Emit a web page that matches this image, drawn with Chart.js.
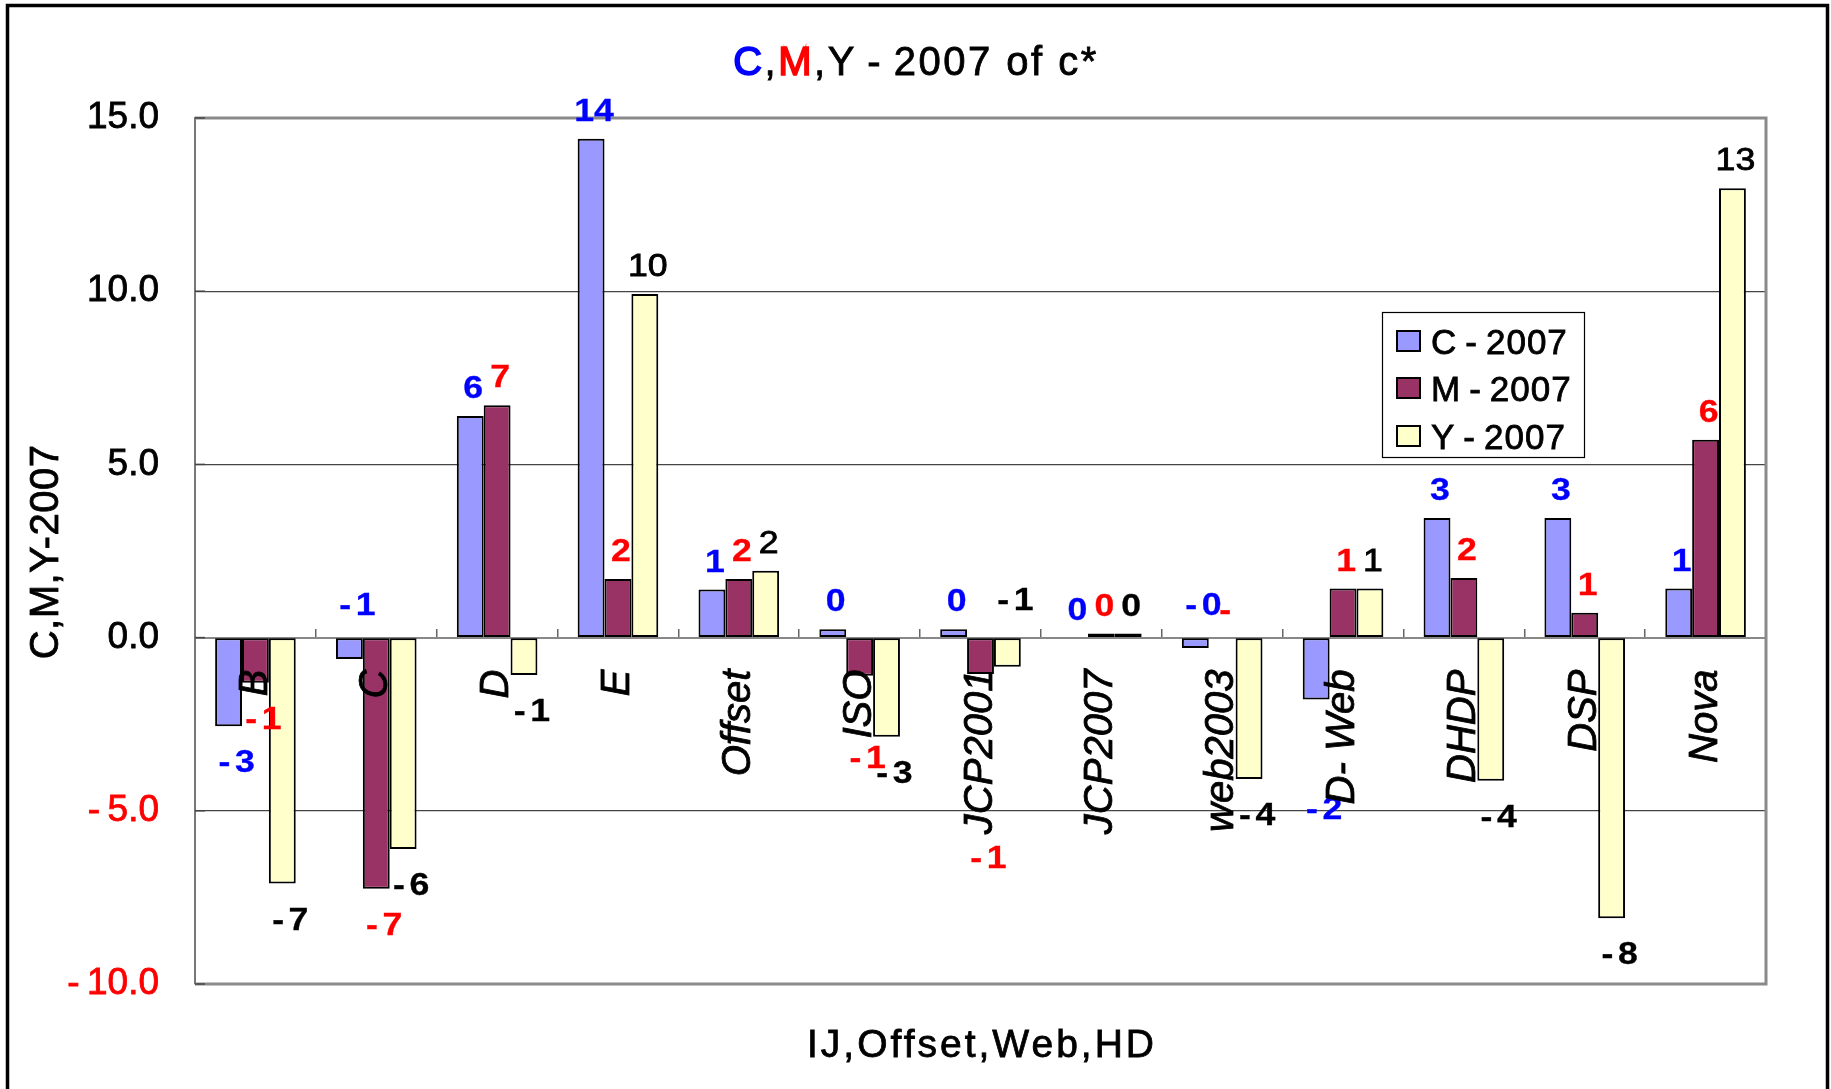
<!DOCTYPE html>
<html>
<head>
<meta charset="utf-8">
<script src="https://cdn.jsdelivr.net/npm/chart.js@4.4.1/dist/chart.umd.min.js"></script>
<style>
html,body{margin:0;padding:0;background:#fff;overflow:hidden;}
canvas{display:block;}
</style>
</head>
<body>
<canvas id="chart" width="1831" height="1089"></canvas>
<script>
// ---------------- data ----------------
const categories = ['B', 'C', 'D', 'E', 'Offset', 'ISO', 'JCP2001', 'JCP2007', 'web2003', 'D- Web', 'DHDP', 'DSP', 'Nova'];
const seriesNames = ['C\u2009-\u20092007', 'M\u2009-\u20092007', 'Y\u2009-\u20092007'];
const cValues = [-2.56, -0.62, 6.40, 14.40, 1.39, 0.24, 0.24, 0, -0.30, -1.79, 3.45, 3.45, 1.42];
const mValues = [-1.30, -7.25, 6.71, 1.69, 1.69, -1.10, -1.05, 0.12, 0, 1.42, 1.72, 0.72, 5.71];
const yValues = [-7.10, -6.10, -1.08, 9.92, 1.93, -2.86, -0.84, 0.12, -4.08, 1.42, -4.13, -8.10, 12.97];
const cLabels = ['-3', '-1', '6', '14', '1', '0', '0', '0', '-0', '-2', '3', '3', '1'];
const mLabels = ['-1', '-7', '7', '2', '2', '-1', '-1', '0', '-', '1', '2', '1', '6'];
const yLabels = ['-7', '-6', '-1', '10', '2', '-3', '-1', '0', '-4', '1', '-4', '-8', '13'];
const yMin = -10, yMax = 15, yStep = 5;
const titleParts = [['C', '#0000FF'], [',', '#000000'], ['M', '#FF0000'], [',Y\u2009-\u20092007 of c*', '#000000']];
const yAxisTitle = 'C,M,Y-2007';
const xAxisTitle = 'IJ,Offset,Web,HD';

// ---------------- styles ----------------
const FONT = '"Liberation Sans", Arial, Helvetica, sans-serif';
const fills = ['#9999FF', '#993366', '#FFFFCC'];
const labelColors = ['#0000FF', '#FF0000', '#000000'];
const allLabels = [cLabels, mLabels, yLabels];
// manual vertical shifts of some data labels (series index, category index, dy px)
const labelShift = [[0, 1, -90], [1, 5, 46], [1, 6, 148], [2, 6, -103], [0, 8, -79], [0, 9, 73]];

function shiftFor(ds, i) {
  for (const s of labelShift) if (s[0] === ds && s[1] === i) return s[2];
  return 0;
}

function heavyText(ctx, text, x, y, w) {
  ctx.fillText(text, x, y);
  ctx.lineWidth = w;
  ctx.strokeStyle = ctx.fillStyle;
  ctx.strokeText(text, x, y);
}

function drawDataLabel(ctx, text, cx, cy, color, bold) {
  const size = 31;
  ctx.save();
  ctx.font = (bold ? 'bold ' : '') + size + 'px ' + FONT;
  ctx.fillStyle = color;
  ctx.textBaseline = 'alphabetic';
  ctx.textAlign = 'left';
  const parts = text.startsWith('-') ? ['-', text.slice(1)] : [text];
  const gap = parts.length > 1 && parts[1] ? 4 : 0;
  const widths = parts.map(p => ctx.measureText(p).width);
  const total = widths.reduce((a, b) => a + b, 0) + gap;
  ctx.translate(cx, cy + 0.716 * size / 2);
  ctx.scale(1.15, 1);
  let x = -total / 2;
  parts.forEach((p, k) => { heavyText(ctx, p, x, 0, bold ? 0.3 : 0.8); x += widths[k] + gap; });
  ctx.restore();
}

const decor = {
  id: 'decor',
  beforeDraw(chart) {
    const ctx = chart.ctx;
    ctx.save();
    ctx.fillStyle = '#ffffff';
    ctx.fillRect(0, 0, chart.width, chart.height);
    ctx.restore();
  },
  beforeDatasetsDraw(chart) {
    const {ctx, chartArea: a} = chart;
    const ys = chart.scales.y;
    ctx.save();
    ctx.strokeStyle = '#8a8a8a';
    ctx.lineWidth = 3;
    ctx.beginPath();
    ctx.moveTo(a.left, a.top);
    ctx.lineTo(a.right, a.top);
    ctx.lineTo(a.right, a.bottom);
    ctx.lineTo(a.left, a.bottom);
    ctx.stroke();
    ctx.strokeStyle = '#444';
    ctx.lineWidth = 1.5;
    ys.ticks.forEach(t => {
      const p = ys.getPixelForValue(t.value);
      ctx.beginPath();
      ctx.moveTo(a.left, p);
      ctx.lineTo(a.left + 10, p);
      ctx.stroke();
    });
    ctx.restore();
  },
  afterDatasetsDraw(chart) {
    const ctx = chart.ctx;
    chart.data.datasets.forEach((ds, d) => {
      const meta = chart.getDatasetMeta(d);
      meta.data.forEach((bar, i) => {
        const v = ds.data[i];
        const neg = v < 0;
        const cy = (neg ? bar.y + 35 : bar.y - 29) + shiftFor(d, i);
        const cx = bar.x + (neg ? 8 : 3);
        const bold = d < 2 || v <= 0.12;
        drawDataLabel(ctx, allLabels[d][i], cx, cy, labelColors[d], bold);
      });
    });
  },
  afterDraw(chart) {
    const ctx = chart.ctx;
    ctx.save();
    // main title
    ctx.font = '40px ' + FONT;
    ctx.letterSpacing = '2.5px';
    ctx.textBaseline = 'alphabetic';
    ctx.textAlign = 'left';
    const widths = titleParts.map(p => ctx.measureText(p[0]).width);
    const tw = widths.reduce((a, b) => a + b, 0);
    let x = 916 - tw / 2;
    titleParts.forEach((p, k) => {
      ctx.fillStyle = p[1];
      heavyText(ctx, p[0], x, 61 + 0.716 * 40 / 2, k === 0 || k === 2 ? 1.6 : 0.8);
      x += widths[k];
    });
    // x axis title
    ctx.font = '39px ' + FONT;
    ctx.letterSpacing = '3px';
    ctx.fillStyle = '#000';
    ctx.textAlign = 'center';
    heavyText(ctx, xAxisTitle, 982, 1043 + 0.716 * 39 / 2, 0.8);
    // y axis title
    ctx.font = '40px ' + FONT;
    ctx.letterSpacing = '0.5px';
    ctx.save();
    ctx.translate(44 + 0.716 * 40 / 2, 552);
    ctx.rotate(-Math.PI / 2);
    ctx.textAlign = 'center';
    ctx.fillStyle = '#000';
    heavyText(ctx, yAxisTitle, 0, 0, 0.8);
    ctx.restore();
    // legend
    ctx.letterSpacing = '1px';
    const lx = 1382, ly = 312, lw = 202, lh = 145;
    ctx.fillStyle = '#fff';
    ctx.fillRect(lx, ly, lw, lh);
    ctx.strokeStyle = '#000';
    ctx.lineWidth = 1.2;
    ctx.strokeRect(lx + 0.5, ly + 0.5, lw, lh);
    const rows = [341, 388, 436];
    ctx.font = '35px ' + FONT;
    ctx.textAlign = 'left';
    chart.data.datasets.forEach((ds, d) => {
      const ry = rows[d];
      ctx.fillStyle = fills[d];
      ctx.fillRect(1397, ry - 10, 23, 20);
      ctx.lineWidth = 2;
      ctx.strokeStyle = '#000';
      ctx.strokeRect(1397, ry - 10, 23, 20);
      ctx.fillStyle = '#000';
      heavyText(ctx, ds.label, 1431, ry + 0.716 * 35 / 2, 0.8);
    });
    // outer frame
    ctx.strokeStyle = '#000';
    ctx.lineWidth = 3.5;
    ctx.strokeRect(7.5, 5.5, 1820, 1200);
    ctx.restore();
  }
};

const chart = new Chart(document.getElementById('chart').getContext('2d'), {
  type: 'bar',
  data: {
    labels: categories,
    datasets: [cValues, mValues, yValues].map((vals, d) => ({
      label: seriesNames[d],
      data: vals,
      backgroundColor: fills[d],
      borderColor: '#000000',
      borderWidth: 2,
      borderSkipped: false,
      categoryPercentage: 0.667,
      barPercentage: 1.0
    }))
  },
  options: {
    responsive: false,
    devicePixelRatio: 1,
    animation: false,
    layout: {padding: {top: 118, bottom: 105, right: 65, left: 0}},
    plugins: {
      legend: {display: false},
      title: {display: false},
      tooltip: {enabled: false}
    },
    scales: {
      x: {
        position: {y: 0},
        offset: true,
        grid: {display: true, offset: true, drawOnChartArea: false, drawTicks: true, tickLength: -10, color: '#666', lineWidth: 1.5},
        border: {display: true, color: '#888', width: 2},
        ticks: {
          z: 1,
          autoSkip: false, maxRotation: 90, minRotation: 90, padding: 42, color: '#000',
          textStrokeColor: '#000', textStrokeWidth: 0.8,
          font: {family: FONT, size: 40, style: 'italic'}
        }
      },
      y: {
        min: yMin, max: yMax,
        ticks: {
          stepSize: yStep, padding: 36,
          color: c => (c.tick && c.tick.value < 0 ? '#FF0000' : '#000000'),
          textStrokeColor: c => (c.tick && c.tick.value < 0 ? '#FF0000' : '#000000'),
          textStrokeWidth: 0.8,
          font: {family: FONT, size: 37},
          callback: v => (v < 0 ? '-\u2009' + Math.abs(v).toFixed(1) : v.toFixed(1))
        },
        grid: {
          drawTicks: false,
          color: c => (c.tick && (c.tick.value === 0 || c.tick.value === yMax || c.tick.value === yMin) ? 'rgba(0,0,0,0)' : '#444'),
          lineWidth: 1.2
        },
        border: {display: true, color: '#777', width: 2},
        afterFit(s) { s.width = 195; }
      }
    }
  },
  plugins: [decor]
});
</script>
</body>
</html>
